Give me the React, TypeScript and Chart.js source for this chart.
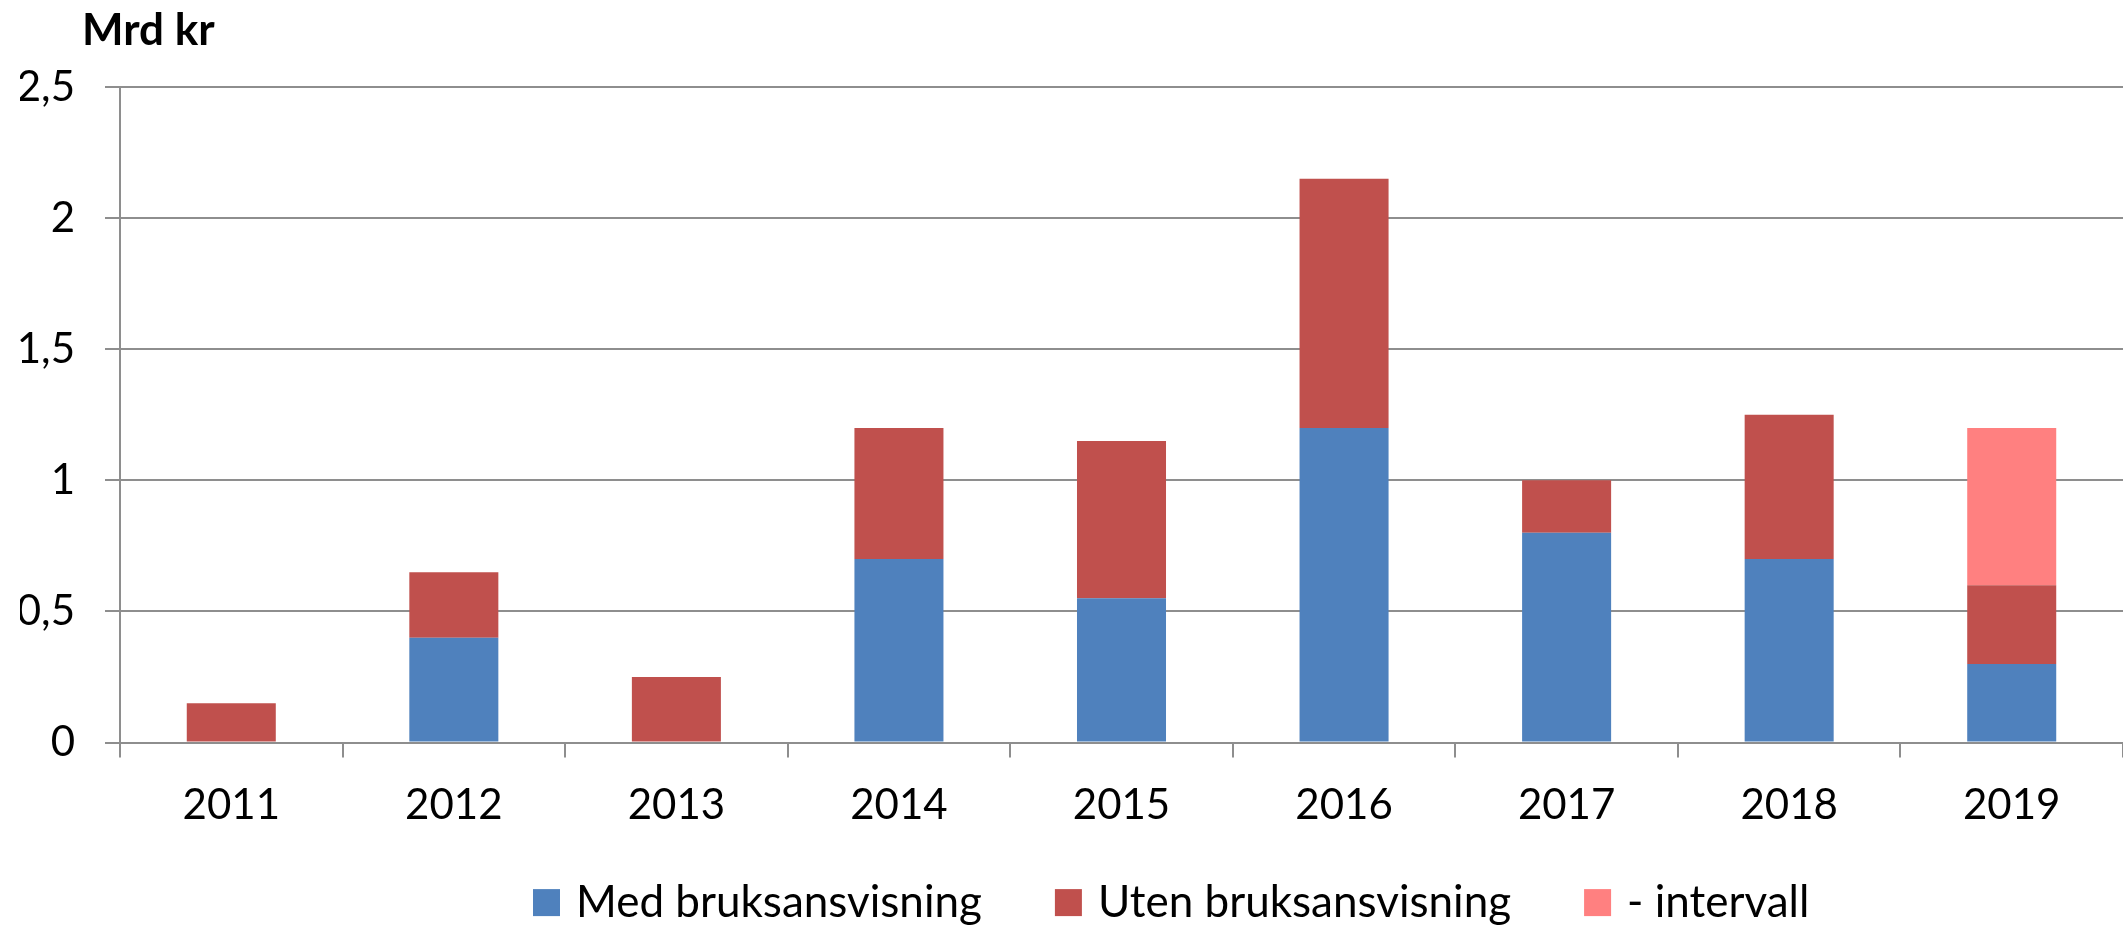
import React, { useEffect, useRef } from "react";
import { Chart, registerables } from "chart.js";

Chart.register(...registerables);

const categories = ["2011", "2012", "2013", "2014", "2015", "2016", "2017", "2018", "2019"];
const medBruksanvisning = [0, 0.4, 0, 0.7, 0.55, 1.2, 0.8, 0.7, 0.3];
const utenBruksanvisning = [0.15, 0.25, 0.25, 0.5, 0.6, 0.95, 0.2, 0.55, 0.3];
const intervall = [0, 0, 0, 0, 0, 0, 0, 0, 0.6];
const seriesNames = ["Med bruksansvisning", "Uten bruksansvisning", "- intervall"];
const seriesColors = ["#4F81BD", "#C0504D", "#FF8080"];
const unitLabel = "Mrd kr";

const FONT = "Lato, 'Open Sans', sans-serif";
const GRID = "#8E8E8E";

const unitTitlePlugin = {
  id: "unitTitle",
  afterDraw(chart: any) {
    const { ctx, chartArea } = chart;
    ctx.save();
    ctx.font = `bold 44px ${FONT}`;
    ctx.fillStyle = "#000";
    ctx.textAlign = "left";
    ctx.textBaseline = "alphabetic";
    ctx.fillText(unitLabel, chartArea.left - 38, chartArea.top - 42);
    ctx.restore();
  },
};

// Legend drawn below the axis, using dataset labels and colours
const bottomLegendPlugin = {
  id: "bottomLegend",
  afterDraw(chart: any) {
    const { ctx, chartArea } = chart;
    const box = 27;
    const boxGap = 16;
    const itemGap = 73;
    const yc = chartArea.bottom + 160;
    let x = chartArea.left + 413;
    ctx.save();
    ctx.font = `44px ${FONT}`;
    ctx.textAlign = "left";
    ctx.textBaseline = "middle";
    chart.data.datasets.forEach((ds: any) => {
      ctx.fillStyle = ds.backgroundColor;
      ctx.fillRect(x, yc - box / 2, box, box);
      ctx.fillStyle = "#000";
      ctx.fillText(ds.label, x + box + boxGap, yc);
      x += box + boxGap + ctx.measureText(ds.label).width + itemGap;
    });
    ctx.restore();
  },
};

export default function App() {
  const ref = useRef<HTMLCanvasElement | null>(null);
  useEffect(() => {
    document.body.style.margin = "0";
    const chart = new Chart(ref.current as HTMLCanvasElement, {
      type: "bar",
      data: {
        labels: categories,
        datasets: [
          { label: seriesNames[0], data: medBruksanvisning, backgroundColor: seriesColors[0], borderWidth: 0 },
          { label: seriesNames[1], data: utenBruksanvisning, backgroundColor: seriesColors[1], borderWidth: 0 },
          { label: seriesNames[2], data: intervall, backgroundColor: seriesColors[2], borderWidth: 0 },
        ],
      },
      options: {
        animation: false,
        responsive: true,
        maintainAspectRatio: false,
        layout: { padding: { top: 87, left: 20, right: 0, bottom: 71 } },
        datasets: { bar: { barPercentage: 0.4, categoryPercentage: 1.0 } },
        plugins: {
          legend: { display: false },
          tooltip: { enabled: false },
        },
        scales: {
          x: {
            stacked: true,
            border: { display: true, color: GRID, width: 2 },
            grid: { offset: true, drawOnChartArea: false, drawTicks: true, tickLength: 15, color: GRID, lineWidth: 2 },
            ticks: { color: "#000", padding: 23, font: { family: FONT, size: 42 } },
          },
          y: {
            stacked: true,
            min: 0,
            max: 2.5,
            afterFit: (s: any) => {
              s.width = 100;
            },
            border: { display: true, color: GRID, width: 2 },
            grid: { color: GRID, lineWidth: 2, tickLength: 15 },
            ticks: {
              stepSize: 0.5,
              color: "#000",
              padding: 30,
              font: { family: FONT, size: 42 },
              callback: (v: any) => String(Number(v)).replace(".", ","),
            },
          },
        },
      },
      plugins: [unitTitlePlugin, bottomLegendPlugin],
    });
    return () => chart.destroy();
  }, []);
  return (
    <div style={{ width: 2123, height: 925, position: "relative" }}>
      <canvas ref={ref} />
    </div>
  );
}
